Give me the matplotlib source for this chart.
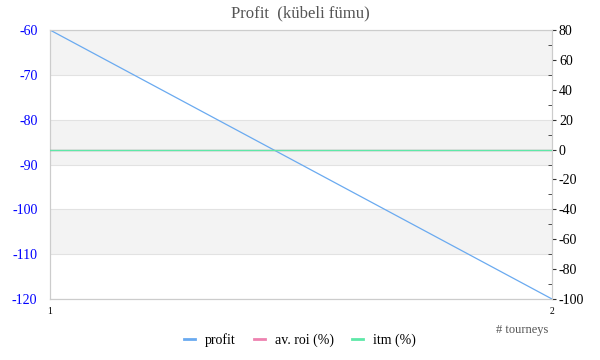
import numpy as np
import matplotlib.pyplot as plt
from matplotlib.lines import Line2D

# data
tourneys = [1, 2]
profit = [-60, -120]
av_roi = [0, 0]
itm = [0, 0]

left_ticks = [-60, -70, -80, -90, -100, -110, -120]
right_ticks = [80, 60, 40, 20, 0, -20, -40, -60, -80, -100]

plt.rcParams['font.family'] = ['Liberation Serif', 'DejaVu Serif']
plt.rcParams['axes.unicode_minus'] = False

fig = plt.figure(figsize=(6, 3.6), dpi=100)
ax = fig.add_axes([50 / 600, 61 / 360, 502 / 600, 269 / 360])

# alternating bands
for i, lo in enumerate(range(-120, -60, 10)):
    if i % 2 == 1:
        ax.axhspan(lo, lo + 10, color='#f3f3f3', zorder=0, lw=0)
for t in left_ticks:
    ax.axhline(t, color='#e2e2e2', lw=0.8, zorder=1)

ax.plot(tourneys, profit, color='#6aaaf0', lw=0.9, zorder=3)
ax.set_xlim(1, 2)
ax.set_ylim(-120, -60)
ax.set_yticks(left_ticks)
ax.tick_params(axis='y', colors='#0000ff', length=0, labelsize=10, pad=9)
ax.tick_params(axis='x', length=0, labelsize=7, pad=6)
ax.set_xticks(tourneys)
for s in ax.spines.values():
    s.set_color('#cccccc')
    s.set_linewidth(0.8)

ax2 = ax.twinx()
ax2.plot(tourneys, av_roi, color='#ee82b0', lw=1.0, zorder=3)
ax2.plot(tourneys, itm, color='#5ee8a8', lw=1.0, zorder=4)
ax2.set_ylim(-100, 80)
ax2.set_yticks(right_ticks)
ax2.set_yticks(np.arange(-90, 80, 20), minor=True)
ax2.tick_params(axis='y', which='major', direction='out', length=3, color='#333333',
                labelsize=10, pad=2)
ax2.tick_params(axis='y', which='minor', direction='in', length=3, color='#333333')
for s in ax2.spines.values():
    s.set_color('#cccccc')
    s.set_linewidth(0.8)

fig.text(0.5, 0.964, 'Profit  (kübeli fümu)', ha='center', va='center',
         fontsize=12, color='#555555')
fig.text(548 / 600, 1 - 330 / 360, '# tourneys', ha='right', va='center',
         fontsize=9, color='#555555')

handles = [Line2D([], [], color='#6aaaf0', lw=2),
           Line2D([], [], color='#ee82b0', lw=2),
           Line2D([], [], color='#5ee8a8', lw=2)]
fig.legend(handles, ['profit', 'av. roi (%)', 'itm (%)'], loc='center',
           bbox_to_anchor=(0.5, 1 - 340 / 360), ncol=3, frameon=False,
           fontsize=10, handlelength=0.8, columnspacing=1.3, handletextpad=0.7)

fig.savefig('out.png', dpi=100)
